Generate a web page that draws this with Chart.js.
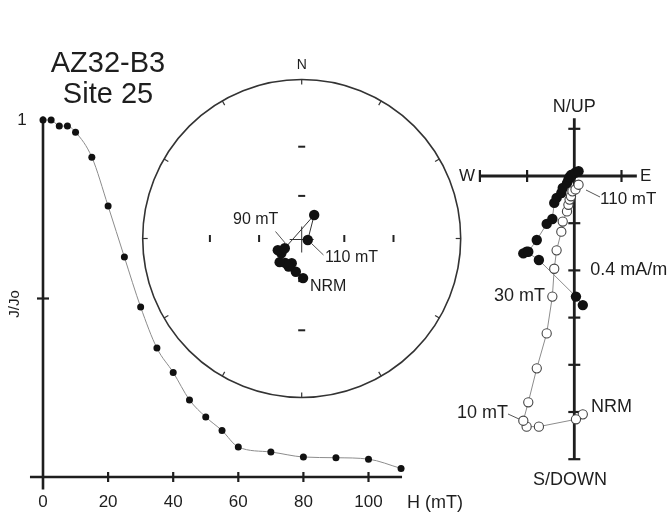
<!DOCTYPE html>
<html>
<head>
<meta charset="utf-8">
<script src="https://cdn.jsdelivr.net/npm/chart.js@4.4.0/dist/chart.umd.min.js"></script>
<style>
html, body { margin: 0; padding: 0; background: #fff; }
#wrap { position: relative; width: 672px; height: 516px; }
</style>
</head>
<body>
<div id="wrap"><canvas id="fig" width="672" height="516"></canvas></div>
<script>
// AF demagnetisation steps (mT) and normalised intensity J/Jo
var steps = [0, 2.5, 5, 7.5, 10, 15, 20, 25, 30, 35, 40, 45, 50, 55, 60, 70, 80, 90, 100, 110];
var jRatio = [1.0, 1.0, 0.983, 0.983, 0.966, 0.896, 0.759, 0.616, 0.476, 0.361, 0.293, 0.216, 0.168, 0.130, 0.084, 0.070, 0.056, 0.054, 0.050, 0.024];
var hTicks = [0, 20, 40, 60, 80, 100];

// stereonet directions (degrees), NRM first
var decl = [178, 190, 202, 205, 214, 223, 234, 244, 240, 28, 104];
var incl = [62, 66, 71, 68, 69, 67, 72, 71, 76, 71, 85.5];

// orthogonal plot components (mA/m), one per step
var east  = [0.036, 0.007, -0.150, -0.202, -0.216, -0.195, -0.159, -0.117, -0.093, -0.085, -0.075, -0.055, -0.049, -0.031, -0.025, -0.020, -0.014, -0.008, 0.005, 0.018];
var north = [-0.547, -0.511, -0.356, -0.321, -0.328, -0.321, -0.271, -0.203, -0.182, -0.114, -0.093, -0.072, -0.051, -0.030, -0.016, -0.004, 0.004, 0.006, 0.015, 0.020];
var up    = [-1.010, -1.031, -1.062, -1.062, -1.037, -0.959, -0.815, -0.667, -0.511, -0.393, -0.315, -0.236, -0.193, -0.150, -0.122, -0.100, -0.086, -0.065, -0.057, -0.037];
var zTicks = [0.2, -0.2, -0.4, -0.6, -0.8, -1.0, -1.2];

var W = 672, H = 516;
var FONT = '"Liberation Sans", Arial, Helvetica, sans-serif';

// scale range so that value 0 lands on originPx with ppu pixels per unit
function xRange(originPx, ppu) { return { min: -originPx / ppu, max: (W - originPx) / ppu }; }
function yRange(originPx, ppu) { return { min: -(H - originPx) / ppu, max: originPx / ppu }; }

function hidden(axis, r) {
  return { type: 'linear', axis: axis, display: false, min: r.min, max: r.max };
}

var demagPts = steps.map(function (h, i) { return { x: h, y: jRatio[i] }; });
var stereoPts = decl.map(function (d, i) {
  var r = Math.tan((90 - incl[i]) / 2 * Math.PI / 180);
  var a = d * Math.PI / 180;
  return { x: r * Math.sin(a), y: r * Math.cos(a) };
});
var horizPts = east.map(function (e, i) { return { x: e, y: north[i] }; });
var vertPts = east.map(function (e, i) { return { x: e, y: up[i] }; });

function line(c, x1, y1, x2, y2) {
  c.beginPath(); c.moveTo(x1, y1); c.lineTo(x2, y2); c.stroke();
}
function text(c, s, x, y, size, align) {
  c.font = size + 'px ' + FONT;
  c.textAlign = align || 'left';
  c.textBaseline = 'middle';
  c.fillText(s, x, y);
}

var figPlugin = {
  id: 'figParts',
  beforeDatasetsDraw: function (chart) {
    var c = chart.ctx, s = chart.scales;
    c.save();
    c.strokeStyle = '#1e1e1e';
    c.lineCap = 'butt';

    // --- J/Jo vs H axes
    var x0 = s.xd.getPixelForValue(0), y0 = s.yd.getPixelForValue(0);
    c.lineWidth = 2.6;
    line(c, s.xd.getPixelForValue(-4), y0, s.xd.getPixelForValue(110.3), y0);
    line(c, x0, s.yd.getPixelForValue(1.01), x0, s.yd.getPixelForValue(-0.035));
    c.lineWidth = 2.2;
    hTicks.forEach(function (t) {
      if (t === 0) return;
      var px = s.xd.getPixelForValue(t);
      line(c, px, y0 - 5, px, y0 + 5);
    });
    var yh = s.yd.getPixelForValue(0.5);
    line(c, x0 - 6, yh, x0 + 6, yh);

    // --- stereonet
    var cx = s.xs.getPixelForValue(0), cy = s.ys.getPixelForValue(0);
    var R = s.xs.getPixelForValue(1) - cx;
    c.strokeStyle = '#333';
    c.lineWidth = 1.6;
    c.beginPath(); c.arc(cx, cy, R, 0, Math.PI * 2); c.stroke();
    c.lineWidth = 1.2;
    for (var a = 0; a < 360; a += 30) {
      var rad = a * Math.PI / 180;
      line(c, cx + R * Math.sin(rad), cy - R * Math.cos(rad),
        cx + (R - 5) * Math.sin(rad), cy - (R - 5) * Math.cos(rad));
    }
    c.lineWidth = 2;
    c.strokeStyle = '#222';
    [60, 30].forEach(function (inc) {
      var r = Math.tan((90 - inc) / 2 * Math.PI / 180);
      var dyp = s.ys.getPixelForValue(r) - cy, dxp = s.xs.getPixelForValue(r) - cx;
      line(c, cx - 3.5, cy + dyp, cx + 3.5, cy + dyp);
      line(c, cx - 3.5, cy - dyp, cx + 3.5, cy - dyp);
      line(c, cx + dxp, cy - 3.5, cx + dxp, cy + 3.5);
      line(c, cx - dxp, cy - 3.5, cx - dxp, cy + 3.5);
    });
    c.lineWidth = 1;
    c.strokeStyle = '#333';
    line(c, cx - 12, cy + 1, cx + 12, cy + 1);
    line(c, cx, cy - 12, cx, cy + 14);

    // --- orthogonal plot axes
    var zx = s.xz.getPixelForValue(0), zy = s.yz.getPixelForValue(0);
    c.strokeStyle = '#1e1e1e';
    c.lineWidth = 2.8;
    line(c, s.xz.getPixelForValue(-0.4), zy, s.xz.getPixelForValue(0.265), zy);
    line(c, zx, s.yz.getPixelForValue(0.245), zx, s.yz.getPixelForValue(-1.2));
    c.lineWidth = 2.2;
    [-0.4, -0.2, 0.2].forEach(function (t) {
      var px = s.xz.getPixelForValue(t);
      line(c, px, zy - 6, px, zy + 6);
    });
    zTicks.forEach(function (t) {
      var py = s.yz.getPixelForValue(t);
      line(c, zx - 6, py, zx + 6, py);
    });
    c.restore();
  },
  afterDatasetsDraw: function (chart) {
    var c = chart.ctx, s = chart.scales;
    c.save();
    c.fillStyle = '#1e1e1e';

    // title
    text(c, 'AZ32-B3', 108, 64, 29, 'center');
    text(c, 'Site 25', 108, 95, 29, 'center');

    // J/Jo plot labels
    hTicks.forEach(function (t) {
      text(c, String(t), s.xd.getPixelForValue(t), 502, 17, 'center');
    });
    text(c, 'H (mT)', 407, 503, 18, 'left');
    text(c, '1', 22, s.yd.getPixelForValue(1), 17, 'center');
    c.save();
    c.translate(15, 304);
    c.rotate(-Math.PI / 2);
    text(c, 'J/Jo', 0, 0, 15, 'center');
    c.restore();

    // stereonet labels
    var cx = s.xs.getPixelForValue(0);
    text(c, 'N', cx, 65, 14, 'center');
    c.strokeStyle = '#555';
    c.lineWidth = 1;
    text(c, '90 mT', 233, 220, 16, 'left');
    line(c, 275.5, 231.5, 286, 244);
    text(c, '110 mT', 325, 258, 16, 'left');
    line(c, 311.5, 243.5, 323.5, 255);
    text(c, 'NRM', 310, 287, 16, 'left');

    // orthogonal plot labels
    var zx = s.xz.getPixelForValue(0), zy = s.yz.getPixelForValue(0);
    text(c, 'N/UP', zx, 107, 18, 'center');
    text(c, 'S/DOWN', 570, 480, 18, 'center');
    text(c, 'W', 475, zy, 17, 'right');
    text(c, 'E', 640, zy, 17, 'left');
    text(c, '0.4 mA/m', zx + 16, s.yz.getPixelForValue(-0.4), 18, 'left');
    text(c, '110 mT', 600, 199, 17, 'left');
    line(c, 586, 190, 600, 197);
    text(c, '30 mT', 545, 296, 18, 'right');
    text(c, '10 mT', 457, 413, 18, 'left');
    line(c, 508, 414, 519, 419);
    text(c, 'NRM', 591, 407, 18, 'left');
    c.restore();
  }
};

new Chart(document.getElementById('fig'), {
  type: 'scatter',
  data: {
    datasets: [
      {
        data: vertPts, xAxisID: 'xz', yAxisID: 'yz', showLine: true,
        borderColor: '#8c8c8c', borderWidth: 1,
        pointRadius: 4.6, pointBackgroundColor: '#fff', pointBorderColor: '#444', pointBorderWidth: 1.1
      },
      {
        data: horizPts, xAxisID: 'xz', yAxisID: 'yz', showLine: true,
        borderColor: '#8c8c8c', borderWidth: 1,
        pointRadius: 5.2, pointBackgroundColor: '#111', pointBorderColor: '#111', pointBorderWidth: 0
      },
      {
        data: stereoPts, xAxisID: 'xs', yAxisID: 'ys', showLine: true,
        borderColor: '#333', borderWidth: 1,
        pointRadius: 5.2, pointBackgroundColor: '#111', pointBorderColor: '#111', pointBorderWidth: 0
      },
      {
        data: demagPts, xAxisID: 'xd', yAxisID: 'yd', showLine: true,
        borderColor: '#8c8c8c', borderWidth: 1, cubicInterpolationMode: 'monotone',
        pointRadius: 3.5, pointBackgroundColor: '#111', pointBorderColor: '#111', pointBorderWidth: 0
      }
    ]
  },
  options: {
    responsive: false,
    animation: false,
    layout: { padding: 0, autoPadding: false },
    plugins: { legend: { display: false }, tooltip: { enabled: false } },
    scales: {
      xd: hidden('x', xRange(43, 3.255)),
      yd: hidden('y', yRange(477, 357)),
      xs: hidden('x', xRange(301.7, 159)),
      ys: hidden('y', yRange(238.5, 159)),
      xz: hidden('x', xRange(574.3, 236)),
      yz: hidden('y', yRange(176, 236))
    }
  },
  plugins: [figPlugin]
});
</script>
</body>
</html>
